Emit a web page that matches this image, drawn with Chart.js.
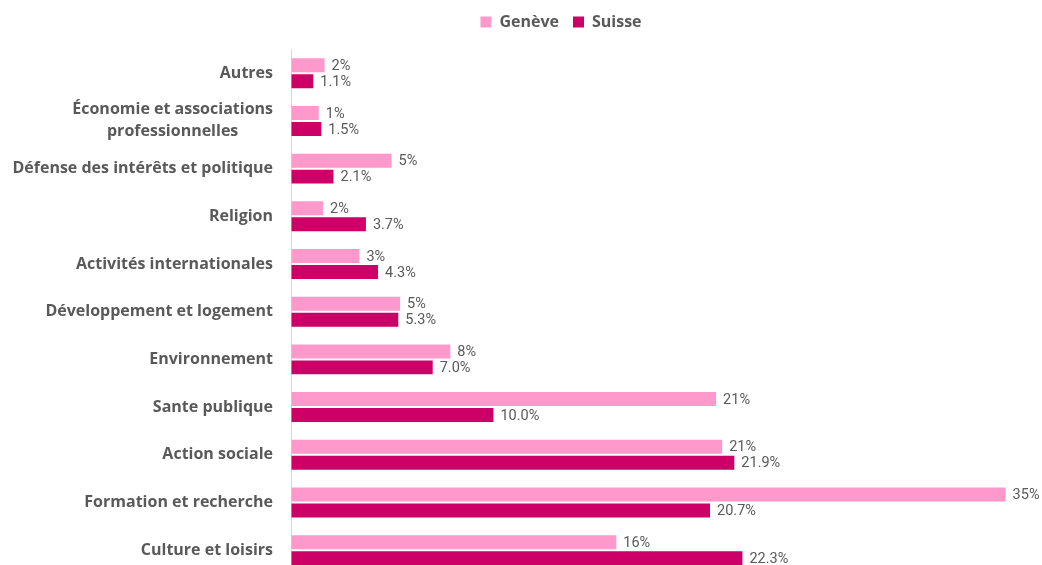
<!DOCTYPE html>
<html><head><meta charset="utf-8">
<script src="https://cdn.jsdelivr.net/npm/chart.js@4"></script>
<style>
html,body{margin:0;padding:0;overflow:hidden;background:#fff;width:1042px;height:565px}
#wrap{position:relative;width:1042px;height:574px}
</style></head>
<body><div id="wrap"><canvas id="c"></canvas></div>
<script>
const categories = ['Autres', ['Économie et associations', 'professionnelles'], 'Défense des intérêts et politique', 'Religion', 'Activités internationales', 'Développement et logement', 'Environnement', 'Sante publique', 'Action sociale', 'Formation et recherche', 'Culture et loisirs'];
const geneve = [1.66, 1.37, 4.97, 1.58, 3.38, 5.39, 7.87, 21.0, 21.3, 35.3, 16.07];
const suisse = [1.1, 1.5, 2.1, 3.7, 4.3, 5.3, 7.0, 10.0, 21.9, 20.7, 22.3];
const seriesNames = ['Genève', 'Suisse'];
const labelDecimals = [0, 1];
const xMax = 37;

const TEXT = '#595959';
const LABEL_FONT = 'bold 16px "Open Sans"';
const VALUE_FONT = '14.5px Roboto';

const yLabelPlugin = {
  id: 'yLabels',
  afterDraw(chart) {
    const ctx = chart.ctx, y = chart.scales.y;
    ctx.save();
    ctx.font = LABEL_FONT; ctx.fillStyle = TEXT; ctx.textBaseline = 'middle'; ctx.textAlign = 'center';
    const xRight = chart.chartArea.left - 18;
    categories.forEach((lab, i) => {
      const yc = y.getPixelForValue(i);
      const lines = Array.isArray(lab) ? lab : [lab];
      const maxW = Math.max(...lines.map(l => ctx.measureText(l).width));
      const cx = xRight - maxW / 2;
      lines.forEach((l, k) => ctx.fillText(l, cx, yc + (k - (lines.length - 1) / 2) * 22));
    });
    ctx.restore();
  }
};

const valueLabelPlugin = {
  id: 'valueLabels',
  afterDatasetsDraw(chart) {
    const ctx = chart.ctx;
    ctx.save();
    ctx.font = VALUE_FONT; ctx.fillStyle = TEXT; ctx.textBaseline = 'middle'; ctx.textAlign = 'left';
    chart.data.datasets.forEach((ds, di) => {
      chart.getDatasetMeta(di).data.forEach((bar, i) => {
        ctx.fillText(ds.data[i].toFixed(labelDecimals[di]) + '%', bar.x + 7, bar.y + 1);
      });
    });
    ctx.restore();
  }
};

new Chart(document.getElementById('c'), {
  type: 'bar',
  data: {
    labels: categories,
    datasets: [
      { label: seriesNames[0], data: geneve, backgroundColor: '#FF99CC', borderWidth: 0 },
      { label: seriesNames[1], data: suisse, backgroundColor: '#CC0066', borderWidth: 0 }
    ]
  },
  options: {
    indexAxis: 'y',
    responsive: true,
    maintainAspectRatio: false,
    animation: false,
    categoryPercentage: 0.67,
    barPercentage: 0.875,
    layout: { padding: { top: 0, right: 2, bottom: 0, left: 82 } },
    scales: {
      x: {
        position: 'top', min: 0, max: xMax,
        ticks: { display: false },
        grid: { display: true, color: 'transparent', drawOnChartArea: false, drawTicks: true, tickLength: 9.4 },
        border: { display: false }
      },
      y: {
        ticks: { display: false },
        grid: { display: false },
        border: { display: true, color: '#D9D9D9', width: 1 },
        afterFit(scale) { scale.width = 209; }
      }
    },
    plugins: {
      legend: {
        position: 'top',
        labels: { boxWidth: 11, boxHeight: 11, padding: 14, color: TEXT, font: { family: 'Open Sans', size: 16, weight: 'bold' } }
      },
      tooltip: { enabled: false }
    }
  },
  plugins: [yLabelPlugin, valueLabelPlugin]
});
</script>
</body></html>
